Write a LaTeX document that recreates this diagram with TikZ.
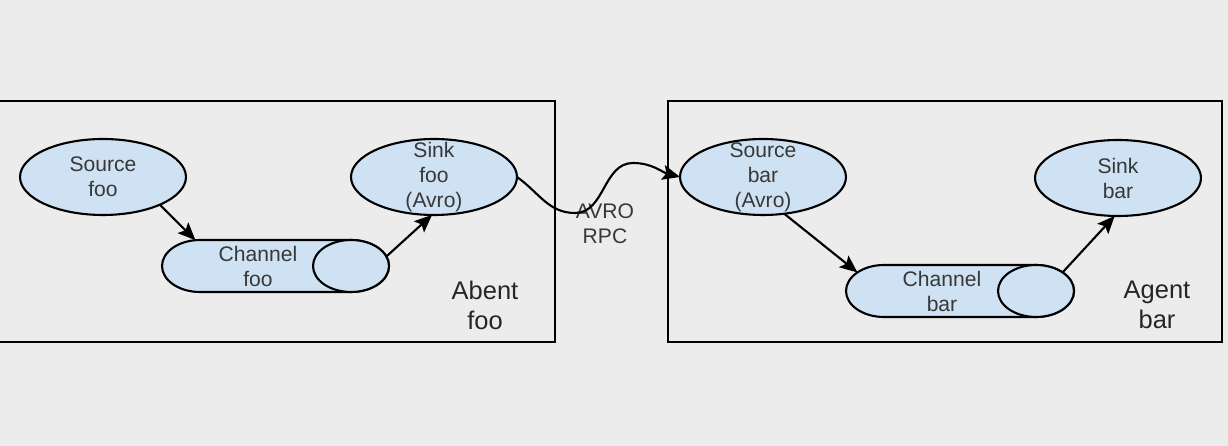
\documentclass[tikz,border=0pt]{standalone}
\usepackage{fontspec}
\setmainfont{Liberation Sans}
\usepackage{tikz}
\usetikzlibrary{shapes.geometric}
\usetikzlibrary{arrows.meta}

\definecolor{bggray}{RGB}{236,236,236}
\definecolor{nodeblue}{RGB}{207,226,243}

\begin{document}
\begin{tikzpicture}[x=0.02cm,y=0.02cm,
    agent/.style={draw=black,line width=1.4pt},
    proc/.style={ellipse,draw=black,fill=nodeblue,line width=1.2pt,outer sep=0pt,
      minimum width=3.32cm,minimum height=1.52cm,inner sep=0pt},
    capin/.style={ellipse,draw=black,fill=nodeblue,line width=1.2pt,outer sep=0pt,
      minimum width=1.52cm,minimum height=1.04cm,inner sep=0pt},
    capout/.style={capin,draw=none,fill=none},
    pipe/.style={draw=black,fill=nodeblue,line width=1.2pt},
    txt/.style={align=center,text=black!78,font=\fontsize{12}{14.2}\selectfont},
    bigtxt/.style={align=center,text=black!85,font=\fontsize{14.5}{17}\selectfont},
    flow/.style={-{Stealth[length=10pt,width=8.5pt,inset=2pt]},line width=1.2pt}]
  \fill[bggray] (0,0) rectangle (1228,446);
  \useasboundingbox (0,0) rectangle (1228,446);
  \draw[agent] (-1,104) rectangle (555,345);
  \draw[agent] (668,104) rectangle (1222,345);

  \node[proc] (srcfoo) at (103,269) {};
  \node[txt] (srcfootxt) at (srcfoo) {Source\\foo};
  \node[proc] (sinkfoo) at (434,269) {};
  \node[txt] (sinkfootxt) at (sinkfoo) {Sink\\foo\\(Avro)};
  \coordinate (chanfooL) at (200,180);
  \draw[pipe] (chanfooL) ++(0,26) -- ++(151,0) arc[start angle=90,end angle=-90,x radius=38,y radius=26]
    -- ++(-151,0) arc[start angle=270,end angle=90,x radius=38,y radius=26] -- cycle;
  \node[capout] (chanfoocap) at (chanfooL) {};
  \node[capin] (chanfooin) at (351,180) {};
  \node[txt] (chanfootxt) at (258,180) {Channel\\foo};
  \node[bigtxt] (agentfoo) at (485,141) {Abent\\foo};

  \node[proc] (srcbar) at (763,269) {};
  \node[txt] (srcbartxt) at (srcbar) {Source\\bar\\(Avro)};
  \node[proc] (sinkbar) at (1118,268) {};
  \node[txt] (sinkbartxt) at (sinkbar) {Sink\\bar};
  \coordinate (chanbarL) at (884,155);
  \draw[pipe] (chanbarL) ++(0,26) -- ++(152,0) arc[start angle=90,end angle=-90,x radius=38,y radius=26]
    -- ++(-152,0) arc[start angle=270,end angle=90,x radius=38,y radius=26] -- cycle;
  \node[capout] (chanbarcap) at (chanbarL) {};
  \node[capin] (chanbarin) at (1036,155) {};
  \node[txt] (chanbartxt) at (942,155) {Channel\\bar};
  \node[bigtxt] (agentbar) at (1157,141) {Agent\\bar};

  \node[txt] (rpc) at (605,222) {AVRO\\RPC};
  \coordinate (rpclo) at (575,233);
  \coordinate (rpchi) at (633,283);

  \draw[flow] (srcfoo.-26) -- (chanfoocap.100);
  \draw[flow] (chanfooin.15) -- (sinkfoo.-93);
  \draw[flow] (srcbar.-60) -- (chanbarcap.145);
  \draw[flow] (chanbarin.35) -- (sinkbar.-95);
  \draw[flow] (sinkfoo.east) to[out=-35,in=180] (rpclo) to[out=0,in=180] (rpchi)
    to[out=0,in=165] (srcbar.west);
\end{tikzpicture}
\end{document}
